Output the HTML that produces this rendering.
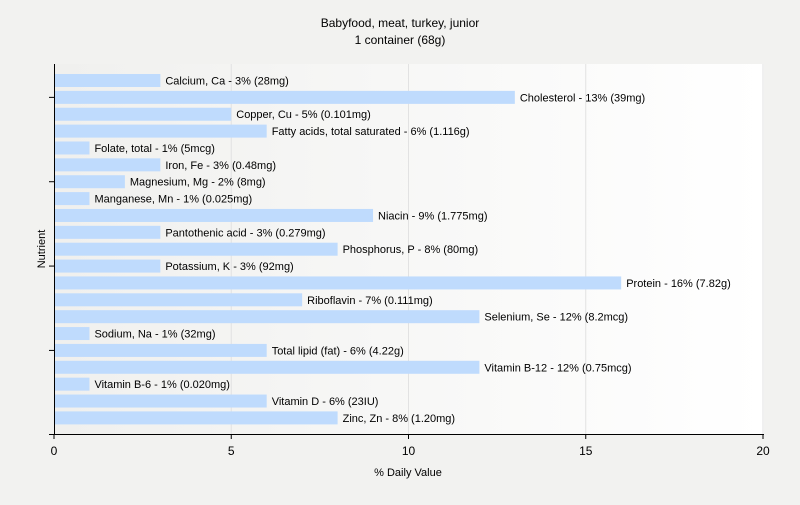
<!DOCTYPE html>
<html><head><meta charset="utf-8"><style>
body{margin:0;background:#f2f2f0;font-family:"Liberation Sans",sans-serif}
svg text{font-family:"Liberation Sans",sans-serif}
</style></head><body>
<svg width="800" height="500" id="chart">
<defs><linearGradient id="bg" x1="0" x2="1" y1="0" y2="0"><stop offset="0" stop-color="#f0f0ee"/><stop offset="1" stop-color="#ffffff"/></linearGradient></defs>
<rect x="0" y="0" width="800" height="500" fill="#f2f2f0"/>
<rect x="54" y="64" width="710" height="370" fill="url(#bg)"/>
<text x="400" y="27" text-anchor="middle" font-size="12">Babyfood, meat, turkey, junior</text>
<text x="400" y="44" text-anchor="middle" font-size="12">1 container (68g)</text>
<text x="408" y="476" text-anchor="middle" font-size="11">% Daily Value</text>
<text transform="translate(45,249) rotate(-90)" text-anchor="middle" font-size="11">Nutrient</text>
<g id="grid"></g><g id="bars"></g><g id="axes"></g>
</svg>
<script>
const categories=["Calcium, Ca","Cholesterol","Copper, Cu","Fatty acids, total saturated","Folate, total","Iron, Fe","Magnesium, Mg","Manganese, Mn","Niacin","Pantothenic acid","Phosphorus, P","Potassium, K","Protein","Riboflavin","Selenium, Se","Sodium, Na","Total lipid (fat)","Vitamin B-12","Vitamin B-6","Vitamin D","Zinc, Zn"];
const values=[3,13,5,6,1,3,2,1,9,3,8,3,16,7,12,1,6,12,1,6,8];
const amounts=["28mg","39mg","0.101mg","1.116g","5mcg","0.48mg","8mg","0.025mg","1.775mg","0.279mg","80mg","92mg","7.82g","0.111mg","8.2mcg","32mg","4.22g","0.75mcg","0.020mg","23IU","1.20mg"];
const xTicks=[0,5,10,15,20];
const NS="http://www.w3.org/2000/svg";
const x=v=>54+v*35.45;
const y=i=>74+i*16.87;
const bh=13;
function mk(t,a,p){const e=document.createElementNS(NS,t);for(const k in a)e.setAttribute(k,a[k]);p.appendChild(e);return e;}
const grid=document.getElementById('grid'),bars=document.getElementById('bars'),axes=document.getElementById('axes');
xTicks.forEach(t=>{
  if(t>0){const g=mk('line',{x1:x(t),x2:x(t),y1:64,y2:434,stroke:'#e2e2e2'},grid);
  
  }
  const tk=mk('line',{x1:x(t),x2:x(t),y1:434,y2:439,stroke:'#000'},axes);
  
  
  const lb=mk('text',{x:x(t),y:455,'text-anchor':'middle','font-size':'12'},axes);
  lb.textContent=t;
  
  
});
categories.forEach((c,i)=>{
  const r=mk('rect',{x:54,y:y(i),width:x(values[i])-54,height:bh,fill:'#bfdbfd'},bars);
  
  
  const t=mk('text',{x:x(values[i])+5,y:y(i)+10.5,'font-size':'11'},bars);
  t.textContent=c+' - '+values[i]+'% ('+amounts[i]+')';
  
  
});
[1,6,11,16].forEach(i=>{
  const tk=mk('line',{x1:49,x2:54,y1:y(i)+bh/2,y2:y(i)+bh/2,stroke:'#000'},axes);
  
  
});
const ya=mk('line',{x1:54.5,x2:54.5,y1:64,y2:434,stroke:'#000'},axes);


const xa=mk('line',{x1:49,x2:764,y1:434.5,y2:434.5,stroke:'#000'},axes);


</script>
</body></html>
